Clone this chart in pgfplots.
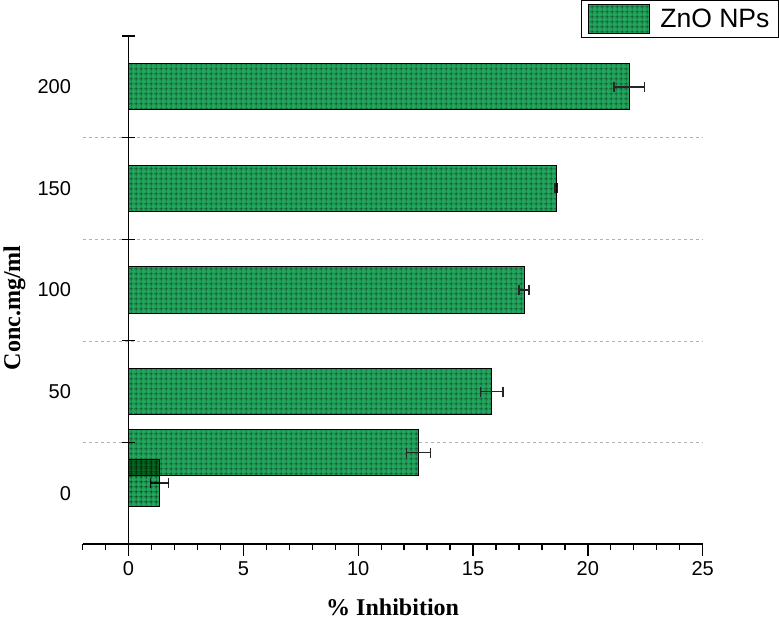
\documentclass[border=0pt]{standalone}
\usepackage{pgfplots}
\pgfplotsset{compat=1.18}
\usetikzlibrary{patterns.meta}
\usepackage{fontspec}
\setmainfont{Liberation Sans}
\newfontfamily\timesfont{Liberation Serif}
\definecolor{zgreen}{RGB}{34,165,92}
\definecolor{zdark}{RGB}{15,60,35}
\tikzdeclarepattern{
  name=mygrid, type=uncolored,
  bottom left={(0pt,0pt)}, top right={(4.6pt,4.6pt)}, tile size={(4.6pt,4.6pt)},
  code={\draw[line width=0.5pt] (0pt,2.3pt) -- (4.6pt,2.3pt) (2.3pt,0pt) -- (2.3pt,4.6pt);}
}
\begin{document}
\begin{tikzpicture}
\begin{axis}[
  width=619pt, height=507pt, scale only axis,
  xmin=-2, xmax=25, ymin=-0.5, ymax=4.5,
  axis x line*=bottom, axis y line*=left,
  y axis line style={draw=none},
  x axis line style={line width=1.3pt, black},
  xtick={0,5,...,25}, minor xtick={-2,...,25},
  tick align=outside,
  major tick length=12pt, minor tick length=6pt,
  x tick style={line width=1.3pt, black},
  ytick={0,...,4}, yticklabels={0,50,100,150,200},
  y tick style={draw=none},
  ticklabel style={font=\fontsize{20}{20}\selectfont},
  /pgf/number format/assume math mode=true,
  yticklabel style={xshift=4pt},
  xticklabel style={yshift=-2pt},
  every axis x label/.style={at={(rel axis cs:0.5,-0.124)}, anchor=center},
  every axis y label/.style={at={(rel axis cs:-0.11,0.465)}, rotate=90, anchor=center},
  xlabel={\timesfont\bfseries\fontsize{24}{24}\selectfont \% Inhibition},
  ylabel={\timesfont\bfseries\fontsize{24}{24}\selectfont Conc.mg/ml},
  legend style={at={(1.123,1.071)}, anchor=north east, draw=black, line width=1pt,
    font=\fontsize{26.5}{26.5}\selectfont, inner xsep=7pt, inner ysep=3.5pt},
  legend image code/.code={\draw[#1] (0pt,-14.5pt) rectangle (61pt,14.5pt); \path (69pt,0pt);},
  clip=false,
]
\addplot[forget plot, dashed, gray!60, line width=0.6pt] coordinates {(-2,0.5) (25,0.5)};
\addplot[forget plot, dashed, gray!60, line width=0.6pt] coordinates {(-2,1.5) (25,1.5)};
\addplot[forget plot, dashed, gray!60, line width=0.6pt] coordinates {(-2,2.5) (25,2.5)};
\addplot[forget plot, dashed, gray!60, line width=0.6pt] coordinates {(-2,3.5) (25,3.5)};
\addplot[xbar, bar width=0.455, bar shift=0pt, draw=black, line width=1pt,
  fill=zgreen, postaction={pattern=mygrid, pattern color=zdark},
  error bars/.cd, x dir=both, x explicit,
  error bar style={line width=1.3pt, black!85},
  error mark options={line width=1.3pt, mark size=5pt, black!85, rotate=90}]
  coordinates {
  (21.8,4) +- (0.66,0)
  (18.63,3) +- (0.06,0)
  (17.22,2) +- (0.22,0)
  (15.81,1) +- (0.5,0)
  (12.62,0.40) +- (0.52,0)
  };
\addlegendentry{ZnO NPs}
\addplot[forget plot, xbar, bar width=0.455, bar shift=0pt, draw=black, line width=1pt,
  fill=zgreen, blend mode=multiply, postaction={pattern=mygrid, pattern color=zdark},
  error bars/.cd, x dir=both, x explicit,
  error bar style={line width=1.3pt, black!85},
  error mark options={line width=1.3pt, mark size=5pt, black!85, rotate=90}]
  coordinates {
  (1.35,0.10) +- (0.4,0)
  };
\draw[line width=1.3pt] (axis cs:0,-0.5) -- (axis cs:0,4.5);
\draw[line width=1.3pt] ([xshift=-6pt]axis cs:0,0.5) -- ([xshift=6pt]axis cs:0,0.5);
\draw[line width=1.3pt] ([xshift=-6pt]axis cs:0,1.5) -- ([xshift=6pt]axis cs:0,1.5);
\draw[line width=1.3pt] ([xshift=-6pt]axis cs:0,2.5) -- ([xshift=6pt]axis cs:0,2.5);
\draw[line width=1.3pt] ([xshift=-6pt]axis cs:0,3.5) -- ([xshift=6pt]axis cs:0,3.5);
\draw[line width=1.3pt] ([xshift=-6pt]axis cs:0,4.5) -- ([xshift=6pt]axis cs:0,4.5);
\end{axis}
\end{tikzpicture}
\end{document}
